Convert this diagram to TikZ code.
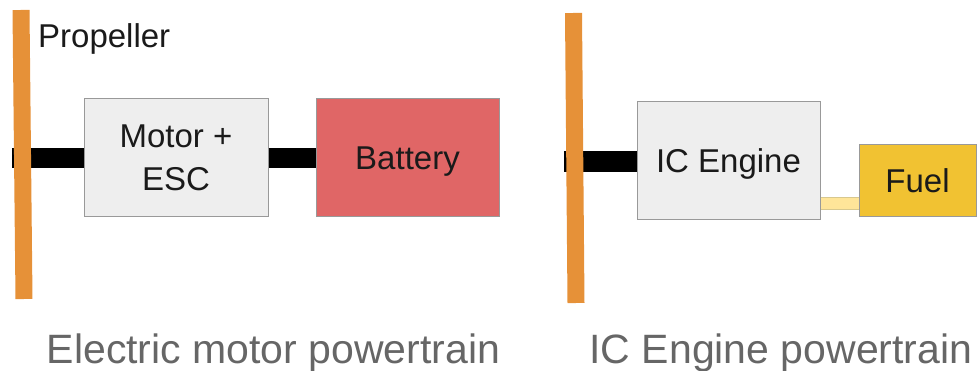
\documentclass[tikz,border=0pt]{standalone}
\usepackage{fontspec}
\setmainfont{Liberation Sans}
\definecolor{propc}{HTML}{E69138}
\definecolor{boxgray}{HTML}{EEEEEE}
\definecolor{bordergray}{HTML}{999999}
\definecolor{battc}{HTML}{E06666}
\definecolor{fuelc}{HTML}{F1C232}
\definecolor{fuellinec}{HTML}{FFE599}
\definecolor{fuelborder}{HTML}{D8C88E}
\definecolor{capc}{HTML}{666666}
\definecolor{txtc}{HTML}{1A1A1A}
\begin{document}
\begin{tikzpicture}[x=1pt,y=-1pt,
  box/.style={draw=bordergray, line width=1pt, rectangle, inner sep=0pt, text=txtc,
    font=\fontsize{33}{43}\selectfont, align=center},
  oneline/.style={text height=30pt, text depth=7pt},
  propbar/.style={draw=propc, line width=17pt},
  shaft/.style={draw=black, line width=20pt},
  fuelline/.style={draw=fuelborder, line width=0.8pt, double=fuellinec, double distance=11.5pt},
  caption/.style={text=capc, font=\fontsize{41}{48}\selectfont, anchor=base, inner sep=0pt},
  lbl/.style={text=txtc, font=\fontsize{33}{40}\selectfont, anchor=base west, inner sep=0pt}]
\useasboundingbox (0,0) rectangle (978,371);
% electric powertrain
\node[box, fill=boxgray, minimum width=184pt, minimum height=118pt] (motor) at (176,158) {Motor +\\ESC};
\node[box, oneline, fill=battc, minimum width=183pt, minimum height=118pt] (batt) at (407.5,158) {Battery};
\coordinate (p1top) at (21,10);
\coordinate (p1bot) at (24,299);
\coordinate (s1end) at (12,158);
\draw[shaft] (s1end) -- (motor.west);
\draw[shaft] (motor.east) -- (batt.west);
\draw[propbar] (p1top) -- (p1bot);
\node[lbl] (proplbl) at (38,48) {Propeller};
% IC engine powertrain
\node[box, oneline, fill=boxgray, minimum width=183pt, minimum height=118pt] (engine) at (728.5,161) {IC Engine};
\node[box, oneline, fill=fuelc, minimum width=117pt, minimum height=72pt] (fuel) at (917.5,181) {Fuel};
\coordinate (p2top) at (573.5,13);
\coordinate (p2bot) at (576,303);
\coordinate (s2end) at (564,161.5);
\coordinate (fy) at (0,203.5);
\draw[draw=black, line width=21pt] (s2end) -- (engine.west |- s2end);
\draw[fuelline] (engine.east |- fy) -- (fuel.west |- fy);
\draw[propbar] (p2top) -- (p2bot);
% captions
\node[caption] (cap1) at (273.5,364) {Electric motor powertrain};
\node[caption] (cap2) at (781,364) {IC Engine powertrain};
\end{tikzpicture}
\end{document}
